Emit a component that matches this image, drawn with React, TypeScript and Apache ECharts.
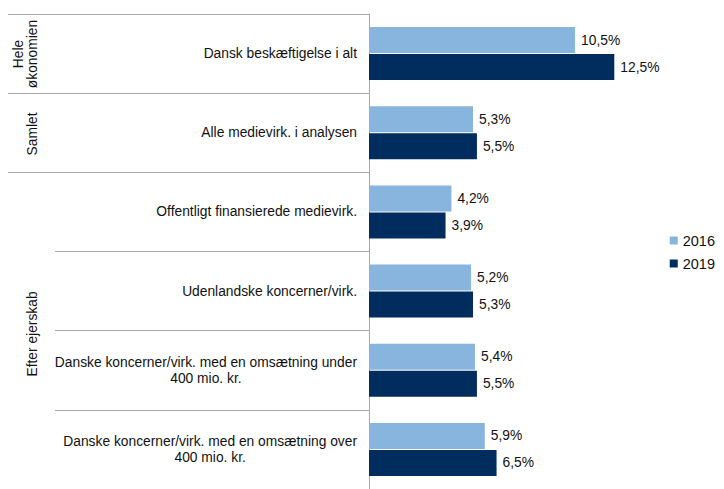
import React, { useEffect, useRef } from "react";
import * as echarts from "echarts";

const categories = [
  "Dansk beskæftigelse i alt",
  "Alle medievirk. i analysen",
  "Offentligt finansierede medievirk.",
  "Udenlandske koncerner/virk.",
  "Danske koncerner/virk. med en omsætning under\n400 mio. kr.",
  "Danske koncerner/virk. med en omsætning over\n400 mio. kr.",
];
const seriesNames = ["2016", "2019"];
const values2016 = [10.5, 5.3, 4.2, 5.2, 5.4, 5.9];
const values2019 = [12.5, 5.5, 3.9, 5.3, 5.5, 6.5];
const groupLabels = ["Hele\nøkonomien", "Samlet", "Efter ejerskab"];
const groupSpans = [
  [0, 0],
  [1, 1],
  [2, 5],
];

const FONT = "'Liberation Sans', Arial, sans-serif";
const GRID_LEFT = 369;
const GRID_TOP = 14;
const BAND = 80;
const LINE_COLOR = "#a9a9a9";
const TEXT_COLOR = "#111";
const FS = 13.8;

export default function App() {
  const ref = useRef<HTMLDivElement>(null);
  useEffect(() => {
    if (!ref.current) return;
    const chart = echarts.init(ref.current, null, { renderer: "svg" });
    const fmtPct = (v: number) => v.toFixed(1).replace(".", ",") + "%";
    const labelFormatter = (value: string) => {
      const lines = value.split("\n");
      if (lines.length === 1) return `{r|${value}}`;
      return `{r|${lines[0]}}\n{c|${lines[1]}}`;
    };
    const richStyle = {
      fontFamily: FONT,
      fontSize: FS,
      color: TEXT_COLOR,
      lineHeight: 16,
    };
    const graphics: any[] = groupLabels.map((g, i) => {
      const [s, e] = groupSpans[i];
      const cy = GRID_TOP + BAND * ((s + e + 1) / 2);
      const twoLines = g.includes("\n");
      return {
        type: "text",
        x: twoLines ? 25 : 32,
        y: cy,
        rotation: Math.PI / 2,
        style: {
          text: g,
          fontFamily: FONT,
          fontSize: FS,
          fill: TEXT_COLOR,
          textAlign: "center",
          textVerticalAlign: "middle",
          lineHeight: 14,
        },
      };
    });
    chart.setOption({
      animation: false,
      textStyle: { fontFamily: FONT },
      grid: { left: GRID_LEFT, top: GRID_TOP, height: BAND * categories.length, width: 314, containLabel: false },
      legend: {
        data: seriesNames,
        orient: "vertical",
        right: 4,
        top: 228,
        icon: "rect",
        itemWidth: 8,
        itemHeight: 8,
        itemGap: 8,
        textStyle: { fontFamily: FONT, fontSize: 14.5, color: TEXT_COLOR },
      },
      xAxis: {
        type: "value",
        min: 0,
        max: 16,
        show: false,
      },
      yAxis: [
        {
          type: "category",
          data: categories,
          inverse: true,
          position: "left",
          axisLine: { show: true, lineStyle: { color: LINE_COLOR, width: 1 } },
          axisTick: { show: true, length: 314, lineStyle: { color: LINE_COLOR, width: 1 } },
          axisLabel: {
            margin: 12,
            formatter: labelFormatter,
            rich: {
              r: { ...richStyle, align: "right" },
              c: { ...richStyle, align: "center" },
            },
          },
        },
        {
          type: "category",
          data: categories,
          inverse: true,
          position: "left",
          offset: 0,
          axisLine: { show: false },
          axisLabel: { show: false },
          axisTick: {
            show: true,
            length: 361,
            interval: (i: number) => i <= 2,
            lineStyle: { color: LINE_COLOR, width: 1 },
          },
        },
      ],
      series: [
        {
          name: seriesNames[0],
          type: "bar",
          data: values2016,
          barWidth: 26,
          barGap: "4%",
          itemStyle: { color: "#87b5de" },
          label: {
            show: true,
            position: "right",
            distance: 6,
            formatter: (p: any) => fmtPct(p.value),
            fontFamily: FONT,
            fontSize: FS,
            color: TEXT_COLOR,
          },
        },
        {
          name: seriesNames[1],
          type: "bar",
          data: values2019,
          barWidth: 26,
          barGap: "4%",
          itemStyle: { color: "#002d5e" },
          label: {
            show: true,
            position: "right",
            distance: 6,
            formatter: (p: any) => fmtPct(p.value),
            fontFamily: FONT,
            fontSize: FS,
            color: TEXT_COLOR,
          },
        },
      ],
      graphic: graphics,
    });
    return () => chart.dispose();
  }, []);
  return (
    <div
      ref={ref}
      style={{ position: "fixed", left: 0, top: 0, width: 724, height: 489, background: "#fff" }}
    />
  );
}
